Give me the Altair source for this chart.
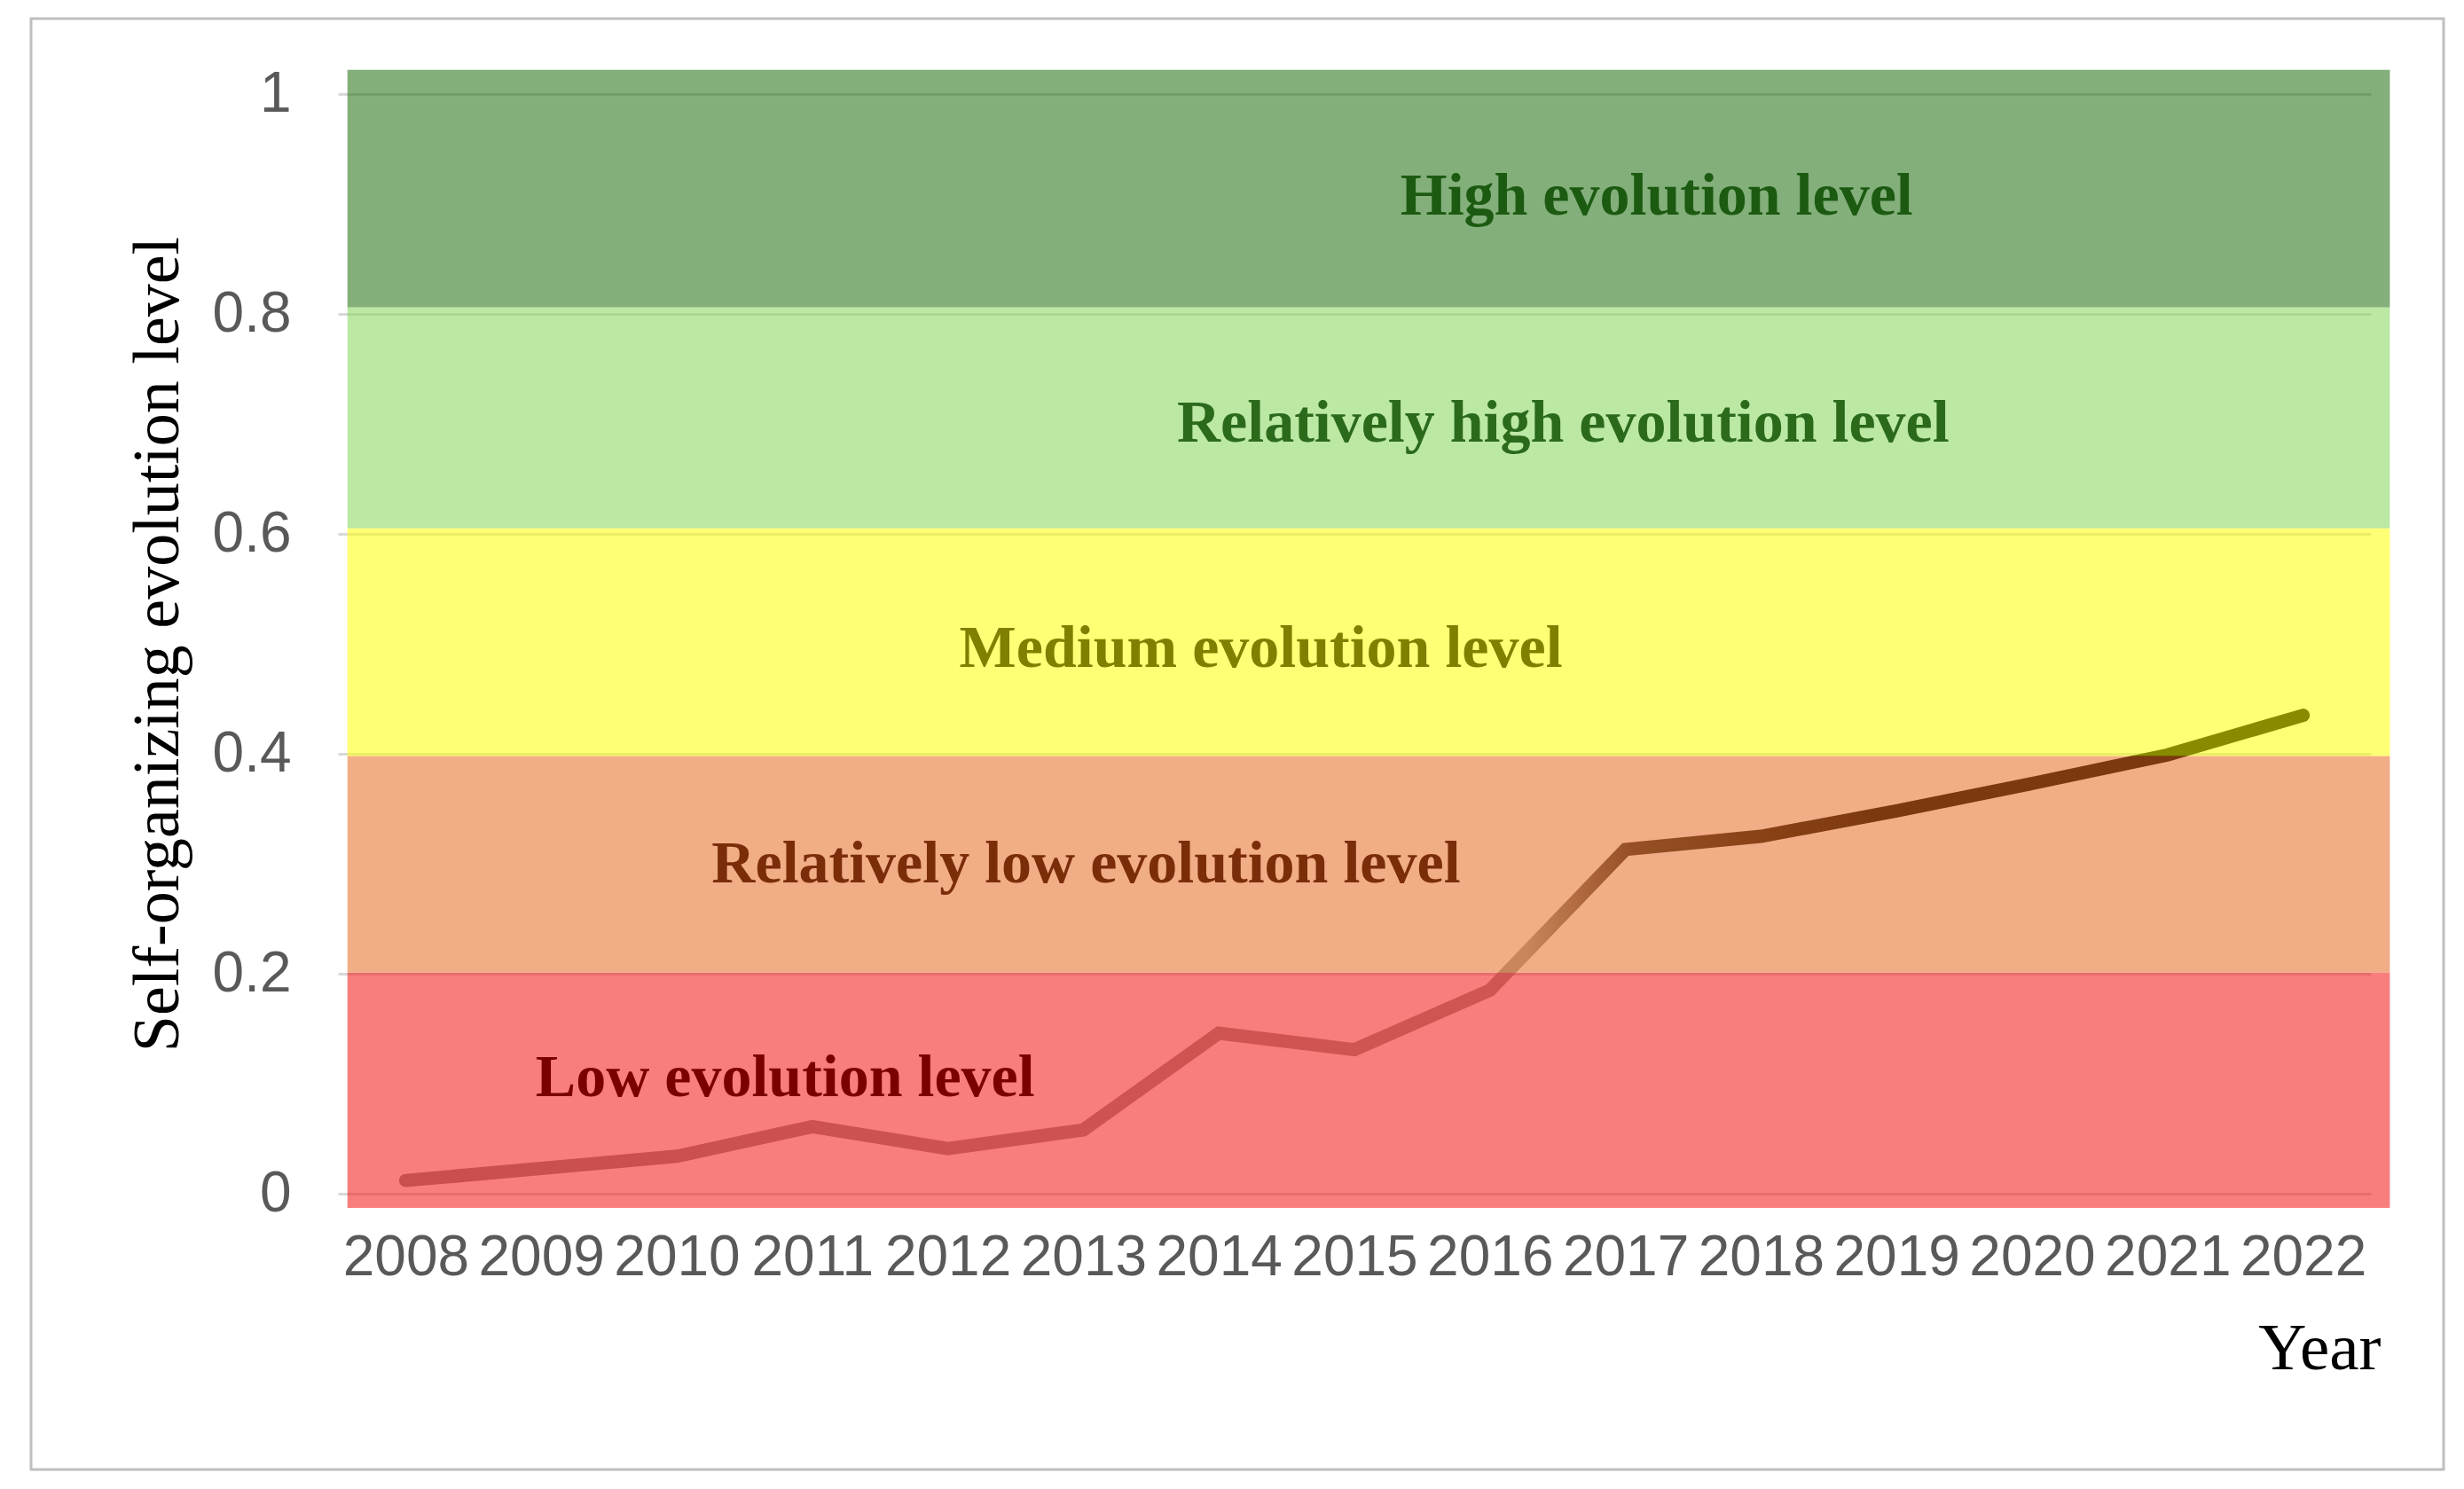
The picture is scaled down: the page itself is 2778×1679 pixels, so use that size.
import altair as alt
import pandas as pd

# ---- data ----
years = list(range(2008, 2023))
levels = [0.012, 0.023, 0.034, 0.061, 0.041, 0.058, 0.146, 0.131, 0.185,
          0.313, 0.325, 0.348, 0.373, 0.399, 0.435]

band_names = ["Low evolution level", "Relatively low evolution level",
              "Medium evolution level", "Relatively high evolution level",
              "High evolution level"]
band_lower = [-0.013, 0.201, 0.398, 0.605, 0.806]
band_upper = [0.201, 0.398, 0.605, 0.806, 1.022]
band_fill = ["#F21010", "#E5671F", "#FFFF00", "#81D455", "#196B09"]
label_color = ["#7A0000", "#7B2D0A", "#7F7F00", "#2B6A1B", "#1C5A12"]
label_year = [2010.80, 2013.02, 2014.31, 2016.54, 2017.23]
label_level = [0.089, 0.283, 0.479, 0.684, 0.890]
band_start = 2007.57
band_end = 2022.64

y_ticks = [0, 0.2, 0.4, 0.6, 0.8, 1]

line_df = pd.DataFrame({"year": years, "level": levels})
band_df = pd.DataFrame({
    "name": band_names, "lo": band_lower, "hi": band_upper,
    "fill": band_fill, "tcolor": label_color,
    "lx": label_year, "ly": label_level,
    "x0": [band_start] * 5, "x1": [band_end] * 5,
})

W, H = 2292, 1240
xs = alt.Scale(domain=[2007.5, 2022.5], nice=False, zero=False)
ys = alt.Scale(domain=[0, 1], nice=False)

xaxis = alt.Axis(values=years, format="d", labelFont="Liberation Sans",
                 labelFontSize=64, labelColor="#595959", labelPadding=40,
                 ticks=False, domain=False, grid=False, labelOverlap=False,
                 labelFlush=False, titleFont="Liberation Serif",
                 titleFontSize=75, titleFontWeight="normal", titleColor="black",
                 titleAnchor="end", titleAlign="right", titleX=2303, titleY=197,
                 titleBaseline="alphabetic")
yaxis = alt.Axis(values=y_ticks,
                 labelExpr="datum.value == 0 ? '0' : datum.value == 1 ? '1' : format(datum.value, '.1f')",
                 labelFont="Liberation Sans", labelFontSize=64,
                 labelColor="#595959", labelPadding=53, ticks=False,
                 domain=False, grid=True, gridColor="#D9D9D9", gridWidth=3,
                 labelFlush=False, titleFont="Liberation Serif",
                 titleFontSize=74, titleFontWeight="normal", titleColor="black",
                 titleX=-181, titleY=H / 2, titleAngle=270, titleAlign="center",
                 titleBaseline="alphabetic")

XT = "Year"
YT = "Self-organizing evolution level"

grad = alt.Gradient(
    gradient="linear", x1=0, x2=1, y1=0, y2=0,
    stops=[alt.GradientStop(offset=0, color="#9a969a"),
           alt.GradientStop(offset=0.59, color="#a8a8a2"),
           alt.GradientStop(offset=0.645, color="#3a3530"),
           alt.GradientStop(offset=0.72, color="#1a1408"),
           alt.GradientStop(offset=0.78, color="#000000"),
           alt.GradientStop(offset=1, color="#000000")])

line = alt.Chart(line_df).mark_line(strokeWidth=15, strokeCap="round",
                                    color=grad).encode(
    x=alt.X("year:Q", scale=xs, axis=xaxis, title=XT),
    y=alt.Y("level:Q", scale=ys, axis=yaxis, title=YT),
)

bands = alt.Chart(band_df).mark_rect(opacity=0.54).encode(
    x=alt.X("x0:Q", scale=xs, title=XT),
    x2="x1:Q",
    y=alt.Y("lo:Q", scale=ys, title=YT),
    y2="hi:Q",
    color=alt.Color("fill:N", scale=None),
)

texts = alt.Chart(band_df).mark_text(font="Liberation Serif", fontWeight="bold",
                                     fontSize=68, align="center",
                                     baseline="alphabetic").encode(
    x=alt.X("lx:Q", scale=xs, title=XT),
    y=alt.Y("ly:Q", scale=ys, title=YT),
    text="name:N",
    color=alt.Color("tcolor:N", scale=None),
)

frame = alt.Chart(pd.DataFrame({"a": [0]})).mark_rect(
    fill="transparent", stroke="#BFBFBF", strokeWidth=3).encode(
    x=alt.value(-346), x2=alt.value(2374), y=alt.value(-85), y2=alt.value(1551))

chart = alt.layer(line, bands, texts, frame).properties(
    width=W, height=H,
    padding={"left": 373, "top": 98, "right": 90, "bottom": 320},
    autosize=alt.AutoSizeParams(type="none"),
    background="white",
).configure_view(stroke=None)

chart.save("out.html", embed_options={"renderer": "svg", "actions": False})
